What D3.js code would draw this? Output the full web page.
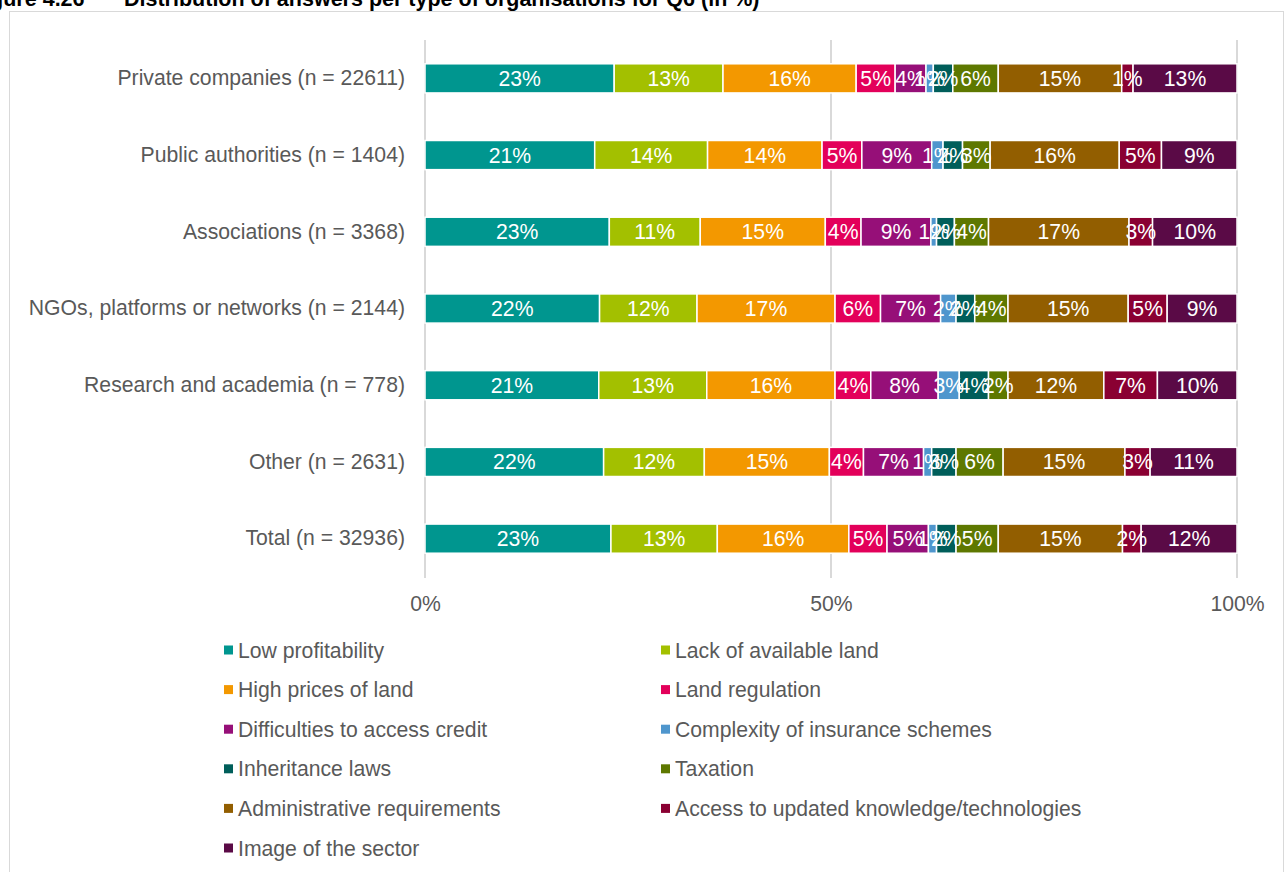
<!DOCTYPE html>
<html>
<head>
<meta charset="utf-8">
<script src="https://cdn.jsdelivr.net/npm/d3@7/dist/d3.min.js"></script>
<style>
  html, body { margin: 0; padding: 0; background: #fff; overflow: hidden; }
  svg { display: block; font-family: Arial, "Liberation Sans", sans-serif; }
</style>
</head>
<body>
<svg id="chart" width="1285" height="872"></svg>
<script>
// ---- data ----
const categories = [
  "Private companies (n = 22611)",
  "Public authorities (n = 1404)",
  "Associations (n = 3368)",
  "NGOs, platforms or networks (n = 2144)",
  "Research and academia (n = 778)",
  "Other (n = 2631)",
  "Total (n = 32936)"
];
const seriesNames = [
  "Low profitability",
  "Lack of available land",
  "High prices of land",
  "Land regulation",
  "Difficulties to access credit",
  "Complexity of insurance schemes",
  "Inheritance laws",
  "Taxation",
  "Administrative requirements",
  "Access to updated knowledge/technologies",
  "Image of the sector"
];
const seriesColors = [
  "#00968f", "#a3c000", "#f39800", "#e3005a", "#960f78", "#4f96cd",
  "#005e5a", "#5e7800", "#925e00", "#8a0032", "#5a0a46"
];
// values in % per category, one array per series
const lowProfitability      = [23.3, 20.9, 22.7, 21.5, 21.4, 22.0, 22.9];
const lackOfLand            = [13.4, 13.9, 11.2, 12.0, 13.3, 12.4, 13.1];
const highPrices            = [16.4, 14.1, 15.4, 17.0, 15.8, 15.4, 16.2];
const landRegulation        = [4.8, 4.9, 4.4, 5.6, 4.4, 4.2, 4.7];
const accessCredit          = [3.8, 8.6, 8.6, 7.4, 8.3, 7.4, 5.1];
const insuranceSchemes      = [0.9, 1.4, 0.7, 1.9, 2.6, 1.0, 1.0];
const inheritanceLaws       = [2.4, 2.4, 2.2, 2.3, 3.6, 3.0, 2.4];
const taxation              = [5.6, 3.4, 4.2, 4.1, 2.4, 5.8, 5.2];
const adminRequirements     = [15.2, 15.9, 17.3, 14.8, 11.8, 15.0, 15.3];
const knowledgeTech         = [1.4, 5.2, 2.9, 4.8, 6.6, 3.1, 2.3];
const imageOfSector         = [12.8, 9.3, 10.4, 8.6, 9.8, 10.7, 11.8];
const seriesValues = [lowProfitability, lackOfLand, highPrices, landRegulation,
  accessCredit, insuranceSchemes, inheritanceLaws, taxation, adminRequirements,
  knowledgeTech, imageOfSector];
const xTicks = [0, 50, 100];
const titleText = "Distribution of answers per type of organisations for Q6 (in %)";
const figureText = "Figure 4.26";

// ---- build table ----
const keys = seriesNames;
const table = categories.map((c, i) => {
  const row = { category: c };
  keys.forEach((k, j) => { row[k] = seriesValues[j][i]; });
  return row;
});
const stacked = d3.stack().keys(keys)(table);

const svg = d3.select("#chart");
const textColor = "#595959";
const fontSize = 21.2;

// frame
svg.append("rect")
  .attr("x", 9.5).attr("y", 11.5)
  .attr("width", 1274).attr("height", 900)
  .attr("fill", "none").attr("stroke", "#d9d9d9").attr("stroke-width", 1);

// title (clipped at top)
svg.append("text").attr("x", -29).attr("y", 6)
  .attr("font-weight", "bold").attr("font-size", 21.5).attr("fill", "#000")
  .text(figureText);
svg.append("text").attr("x", 124).attr("y", 6)
  .attr("font-weight", "bold").attr("font-size", 21.5).attr("fill", "#000")
  .text(titleText);

// scales
const x = d3.scaleLinear().domain([0, 100]).range([425, 1237]);
const y = d3.scaleBand().domain(categories).range([40, 577]).paddingInner(0.62).paddingOuter(0.31);

// gridlines
svg.append("g").selectAll("line").data(xTicks).join("line")
  .attr("x1", d => x(d)).attr("x2", d => x(d))
  .attr("y1", 40).attr("y2", 578)
  .attr("stroke", "#d9d9d9").attr("stroke-width", 2);

// x axis labels
const xAxis = d3.axisBottom(x).tickValues(xTicks).tickFormat(d => d + "%").tickSize(0).tickPadding(0);
const gx = svg.append("g").attr("transform", "translate(0,596)").call(xAxis);
gx.select(".domain").remove();
gx.selectAll("text").attr("font-size", fontSize).attr("fill", textColor)
  .attr("font-family", "Arial, 'Liberation Sans', sans-serif").attr("dy", "0.71em");

// y axis labels
const yAxis = d3.axisLeft(y).tickSize(0).tickPadding(20);
const gy = svg.append("g").attr("transform", `translate(${x(0)},0)`).call(yAxis);
gy.select(".domain").remove();
gy.selectAll("text").attr("font-size", fontSize).attr("fill", textColor)
  .attr("font-family", "Arial, 'Liberation Sans', sans-serif");

// bars
const layers = svg.append("g").selectAll("g").data(stacked).join("g")
  .attr("fill", (d, i) => seriesColors[i]);
layers.selectAll("rect").data(d => d).join("rect")
  .attr("x", d => x(d[0]))
  .attr("y", d => y(d.data.category))
  .attr("width", d => x(d[1]) - x(d[0]))
  .attr("height", y.bandwidth())
  .attr("stroke", "#fff").attr("stroke-width", 1.5);

// labels
const labels = svg.append("g");
stacked.forEach(layer => {
  layer.forEach(d => {
    const v = d[1] - d[0];
    labels.append("text")
      .attr("x", (x(d[0]) + x(d[1])) / 2)
      .attr("y", y(d.data.category) + y.bandwidth() / 2)
      .attr("text-anchor", "middle").attr("dominant-baseline", "central")
      .attr("font-size", fontSize).attr("fill", "#fff")
      .text(Math.round(v) + "%");
  });
});

// legend
const legend = svg.append("g");
const legendX = [224, 661];
const legendY0 = 650, legendStep = 39.6;
seriesNames.forEach((name, i) => {
  const col = i % 2, row = Math.floor(i / 2);
  const gx0 = legendX[col], gy0 = legendY0 + row * legendStep;
  legend.append("rect").attr("x", gx0).attr("y", gy0 - 4.5)
    .attr("width", 9).attr("height", 9).attr("fill", seriesColors[i]);
  legend.append("text").attr("x", gx0 + 14).attr("y", gy0)
    .attr("dominant-baseline", "central")
    .attr("font-size", fontSize).attr("fill", textColor).text(name);
});
</script>
</body>
</html>
